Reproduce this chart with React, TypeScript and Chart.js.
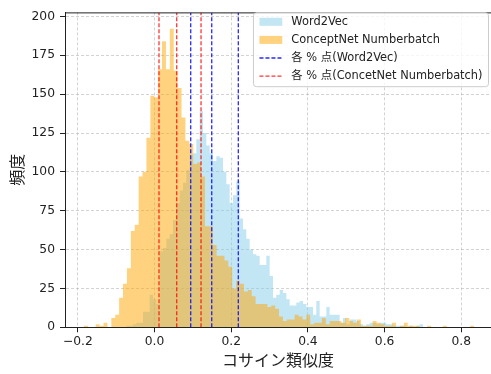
import React, { useEffect, useRef } from "react";
import { Chart, registerables } from "chart.js";

Chart.register(...registerables);

// ---- data ----
const W2V_START = -0.169;
const W2V_BIN = 0.00869;
const W2V_COUNTS = [
  0, 0, 0, 0, 0, 0, 0, 0, 0, 0,
  0, 1, 1, 2, 3, 3, 10, 10, 21, 18,
  15, 49, 51, 57, 60, 69, 80, 88, 93, 101,
  111, 112, 121, 139, 125, 117, 112, 107, 110, 109,
  100, 92, 80, 85, 94, 70, 63, 57, 50, 47,
  46, 40, 40, 46, 33, 19, 21, 24, 22, 18,
  14, 14, 16, 17, 15, 13, 13, 8, 17, 7,
  7, 13, 8, 8, 8, 3, 6, 2, 5, 5,
  4, 2, 1, 2, 3, 3, 2, 3, 3, 2,
  2, 1, 1, 1, 1, 0, 1, 0, 1, 2,
];

const CN_START = -0.1838;
const CN_BIN = 0.01017;
const CN_COUNTS = [
  1, 0, 0, 2, 1, 3, 0, 6, 8, 19,
  28, 38, 62, 66, 97, 100, 122, 149, 148, 166,
  184, 166, 192, 165, 154, 135, 120, 118, 105, 106,
  97, 65, 65, 53, 46, 46, 43, 39, 25, 30,
  28, 23, 24, 20, 15, 15, 15, 13, 14, 12,
  7, 4, 5, 5, 8, 7, 5, 8, 2, 3,
  3, 6, 2, 4, 4, 4, 3, 6, 4, 3,
  5, 1, 1, 1, 4, 3, 2, 1, 1, 3,
  0, 1, 3, 1, 1, 1, 0, 0, 1, 0,
  0, 0, 1, 0, 0, 0, 0, 0, 0, 1,
];

const W2V_PCTS = [0.0944, 0.1492, 0.2185];
const CN_PCTS = [0.0117, 0.0579, 0.1213];

const X_TICKS = [-0.2, 0.0, 0.2, 0.4, 0.6, 0.8];
const Y_TICKS = [0, 25, 50, 75, 100, 125, 150, 175, 200];
const X_MIN = -0.2334;
const X_MAX = 0.8774;
const Y_MAX = 202.6;

const SERIES_LABELS = ["Word2Vec", "ConceptNet Numberbatch"];
const PCT_LABELS = ["各 % 点(Word2Vec)", "各 % 点(ConcetNet Numberbatch)"];
const X_TITLE = "コサイン類似度";
const Y_TITLE = "頻度";

// ---- styles ----
const BLUE_FILL = "rgba(135,206,235,0.5)";
const ORANGE_FILL = "rgba(255,165,0,0.5)";
const BLUE_LINE = "rgba(0,0,255,0.85)";
const RED_LINE = "rgba(255,0,0,0.8)";
const GRID = "rgba(176,176,176,0.7)";
const INK = "#222";
const LATIN = "'DejaVu Sans', 'Noto Sans CJK JP', sans-serif";
const CJK = "'Noto Sans CJK JP', 'DejaVu Sans', sans-serif";
const TICK_SIZE = 12.3;
const LEGEND_SIZE = 11.4;
const TITLE_SIZE = 16;

function histPoints(start: number, bin: number, counts: number[]) {
  const pts = counts.map((c, i) => ({ x: start + i * bin, y: c }));
  pts.push({ x: start + counts.length * bin, y: 0 });
  return pts;
}

function vline(p: number, color: string) {
  return {
    type: "line" as const,
    data: [
      { x: p, y: 0 },
      { x: p, y: Y_MAX },
    ],
    borderColor: color,
    borderWidth: 1.3,
    borderDash: [4, 2],
    pointRadius: 0,
    fill: false,
    order: 0,
  };
}

const framePlugin = {
  id: "frameAndLegend",
  afterDraw(chart: any) {
    const { ctx, chartArea } = chart;
    ctx.save();
    // top spine
    ctx.strokeStyle = INK;
    ctx.lineWidth = 1;
    ctx.beginPath();
    ctx.moveTo(chartArea.left, chartArea.top + 0.5);
    ctx.lineTo(chartArea.right, chartArea.top + 0.5);
    ctx.stroke();

    // legend
    ctx.font = `${LEGEND_SIZE}px ${LATIN}`;
    const labels = [SERIES_LABELS[0], SERIES_LABELS[1], PCT_LABELS[0], PCT_LABELS[1]];
    const textW = Math.max(...labels.map((l) => ctx.measureText(l).width));
    const right = 488.5;
    const top = 12.8;
    const bottom = 86.7;
    const handleLen = 22.8;
    const handleGap = 9.1;
    const padL = 6;
    const padR = 6;
    const left = right - padR - textW - handleGap - handleLen - padL;
    const r = 3;
    ctx.beginPath();
    ctx.moveTo(left + r, top);
    ctx.lineTo(right - r, top);
    ctx.arcTo(right, top, right, top + r, r);
    ctx.lineTo(right, bottom - r);
    ctx.arcTo(right, bottom, right - r, bottom, r);
    ctx.lineTo(left + r, bottom);
    ctx.arcTo(left, bottom, left, bottom - r, r);
    ctx.lineTo(left, top + r);
    ctx.arcTo(left, top, left + r, top, r);
    ctx.closePath();
    ctx.fillStyle = "rgba(255,255,255,0.8)";
    ctx.fill();
    ctx.strokeStyle = "#cccccc";
    ctx.lineWidth = 1;
    ctx.stroke();

    const hx = left + padL;
    const rows = [21.8, 39.9, 58.0, 76.1];
    ctx.fillStyle = BLUE_FILL;
    ctx.fillRect(hx, rows[0] - 4, handleLen, 8);
    ctx.fillStyle = ORANGE_FILL;
    ctx.fillRect(hx, rows[1] - 4, handleLen, 8);
    ctx.lineWidth = 1.3;
    ctx.setLineDash([4, 2]);
    ctx.strokeStyle = BLUE_LINE;
    ctx.beginPath();
    ctx.moveTo(hx, rows[2]);
    ctx.lineTo(hx + handleLen, rows[2]);
    ctx.stroke();
    ctx.strokeStyle = RED_LINE;
    ctx.beginPath();
    ctx.moveTo(hx, rows[3]);
    ctx.lineTo(hx + handleLen, rows[3]);
    ctx.stroke();
    ctx.setLineDash([]);
    ctx.fillStyle = INK;
    ctx.textBaseline = "middle";
    ctx.textAlign = "left";
    labels.forEach((l, i) => ctx.fillText(l, hx + handleLen + handleGap, rows[i]));
    ctx.restore();
  },
};

function fmtX(v: number) {
  const s = Math.abs(v).toFixed(1);
  return v < -1e-9 ? "\u2212" + s : s;
}

export default function App() {
  const ref = useRef<HTMLCanvasElement>(null);
  useEffect(() => {
    document.body.style.margin = "0";
    const canvas = ref.current!;
    const tickFont = { family: LATIN, size: TICK_SIZE };
    const titleFont = { family: CJK, size: TITLE_SIZE };
    const gridOpts = {
      color: GRID,
      lineWidth: 0.8,
      tickColor: INK,
      tickLength: 5,
      tickWidth: 1,
      tickBorderDash: [],
    };
    const chart = new Chart(canvas, {
      type: "line",
      data: {
        datasets: [
          {
            label: SERIES_LABELS[1],
            data: histPoints(CN_START, CN_BIN, CN_COUNTS),
            stepped: true,
            fill: "origin",
            backgroundColor: ORANGE_FILL,
            borderColor: "transparent",
            borderWidth: 0,
            pointRadius: 0,
            order: 2,
          },
          {
            label: SERIES_LABELS[0],
            data: histPoints(W2V_START, W2V_BIN, W2V_COUNTS),
            stepped: true,
            fill: "origin",
            backgroundColor: BLUE_FILL,
            borderColor: "transparent",
            borderWidth: 0,
            pointRadius: 0,
            order: 3,
          },
          ...W2V_PCTS.map((p) => vline(p, BLUE_LINE)),
          ...CN_PCTS.map((p) => vline(p, RED_LINE)),
        ] as any,
      },
      options: {
        responsive: false,
        animation: false,
        events: [],
        layout: { padding: { top: 6, left: 0, right: 0, bottom: 0 } },
        plugins: { legend: { display: false }, tooltip: { enabled: false } },
        scales: {
          x: {
            type: "linear",
            min: X_MIN,
            max: X_MAX,
            z: 1,
            afterBuildTicks: (s: any) => {
              s.ticks = X_TICKS.map((v) => ({ value: v }));
            },
            afterFit: (s: any) => {
              s.height = 46.7;
            },
            ticks: {
              font: tickFont,
              color: INK,
              padding: 2,
              maxRotation: 0,
              autoSkip: false,
              callback: (v: any) => fmtX(Number(v)),
            },
            grid: gridOpts,
            border: { display: true, color: INK, width: 1, dash: [3, 2] },
            title: {
              display: true,
              text: X_TITLE,
              font: titleFont,
              color: INK,
              padding: { top: 0, bottom: 4.4 },
            },
          },
          y: {
            type: "linear",
            min: 0,
            max: Y_MAX,
            z: 1,
            afterBuildTicks: (s: any) => {
              s.ticks = Y_TICKS.map((v) => ({ value: v }));
            },
            afterFit: (s: any) => {
              s.width = 65;
            },
            ticks: {
              font: tickFont,
              color: INK,
              padding: 5,
              callback: (v: any) => String(v),
            },
            grid: gridOpts,
            border: { display: true, color: INK, width: 1, dash: [3, 2] },
            title: {
              display: true,
              text: Y_TITLE,
              font: titleFont,
              color: INK,
              padding: { top: 6.9, bottom: 0 },
            },
          },
        },
      } as any,
      plugins: [framePlugin],
    });
    return () => chart.destroy();
  }, []);
  return (
    <div style={{ position: "absolute", left: 0, top: 0, width: 491, height: 374, background: "#fff" }}>
      <canvas ref={ref} width={491} height={374} style={{ display: "block", width: 491, height: 374 }} />
    </div>
  );
}
